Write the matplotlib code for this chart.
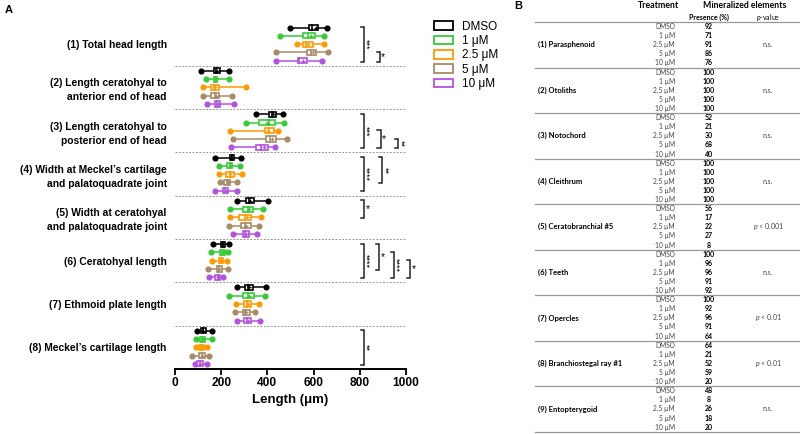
import matplotlib
matplotlib.use("Agg")
import matplotlib.pyplot as plt
from matplotlib.patches import Rectangle, Patch
import numpy as np

plt.rcParams['font.family'] = ['Liberation Sans', 'DejaVu Sans']
plt.rcParams['mathtext.fontset'] = 'custom'
plt.rcParams['mathtext.it'] = 'Lato:italic'
plt.rcParams['mathtext.rm'] = 'Lato'

# ---------------- data (panel A) ----------------
measures = ["(1) Total head length",
            "(2) Length ceratohyal to\nanterior end of head",
            "(3) Length ceratohyal to\nposterior end of head",
            "(4) Width at Meckel\u2019s cartilage\nand palatoquadrate joint",
            "(5) Width at ceratohyal\nand palatoquadrate joint",
            "(6) Ceratohyal length",
            "(7) Ethmoid plate length",
            "(8) Meckel\u2019s cartilage length"]
treatments = ["DMSO", "1 \u03bcM", "2.5 \u03bcM", "5 \u03bcM", "10 \u03bcM"]
colors = ["#000000", "#33cc33", "#ff9900", "#a88a66", "#b352e0"]

w_lo = [[498, 455, 530, 437, 437],
        [113, 136, 120, 123, 137],
        [351, 307, 238, 250, 241],
        [173, 192, 190, 195, 172],
        [267, 238, 238, 235, 250],
        [166, 156, 162, 144, 149],
        [270, 234, 264, 260, 267],
        [94, 91, 91, 75, 87]]
q1 = [[580, 555, 553, 573, 532],
      [167, 167, 154, 157, 173],
      [405, 365, 391, 395, 352],
      [238, 227, 221, 214, 206],
      [307, 296, 278, 286, 293],
      [198, 195, 189, 180, 175],
      [303, 296, 299, 293, 300],
      [111, 108, 105, 104, 97]]
med = [[595, 575, 565, 590, 537],
       [178, 173, 170, 173, 182],
       [420, 405, 408, 413, 372],
       [246, 236, 236, 225, 217],
       [322, 318, 305, 303, 305],
       [206, 205, 197, 190, 184],
       [318, 316, 312, 305, 312],
       [121, 119, 114, 115, 109]]
mean = [[610, 590, 577, 599, 552],
        [182, 176, 172, 176, 185],
        [426, 398, 404, 418, 384],
        [244, 238, 239, 228, 219],
        [326, 322, 310, 308, 309],
        [205, 206, 199, 191, 185],
        [321, 320, 314, 308, 315],
        [122, 120, 115, 117, 110]]
q3 = [[619, 605, 596, 610, 570],
      [195, 180, 189, 189, 195],
      [437, 433, 429, 436, 401],
      [255, 247, 255, 238, 231],
      [342, 339, 328, 328, 322],
      [215, 218, 206, 202, 195],
      [336, 342, 328, 325, 329],
      [133, 131, 126, 130, 123]]
w_hi = [[658, 645, 645, 661, 635],
        [232, 235, 307, 245, 257],
        [469, 473, 447, 486, 433],
        [286, 281, 291, 270, 270],
        [403, 382, 374, 365, 356],
        [232, 228, 225, 228, 209],
        [394, 388, 365, 348, 368],
        [162, 160, 137, 149, 137]]

# significance: (measure index, first row, last row, label)
sig_groups = [0, 0, 2, 2, 2, 3, 3, 4, 5, 5, 5, 5, 7]
sig_from = [0, 3, 0, 2, 3, 0, 0, 0, 0, 0, 1, 2, 0]
sig_to = [4, 4, 4, 4, 4, 4, 3, 2, 4, 3, 4, 4, 4]
sig_labels = ["***", "*", "***", "*", "**", "****", "**", "*", "****", "*", "****", "*", "**"]
sig_x = [818, 887, 818, 890, 967, 818, 897, 818, 818, 884, 948, 1017, 818]

# ---------------- data (panel B) ----------------
elements = ["(1) Parasphenoid", "(2) Otoliths", "(3) Notochord", "(4) Cleithrum",
            "(5) Ceratobranchial #5", "(6) Teeth", "(7) Opercles",
            "(8) Branchiostegal ray #1", "(9) Entopterygoid"]
tab_treat = ["DMSO", "1 \u00b5M", "2.5 \u00b5M", "5 \u00b5M", "10 \u00b5M"]
presence = [[92, 71, 91, 86, 76],
            [100, 100, 100, 100, 100],
            [52, 21, 30, 68, 40],
            [100, 100, 100, 100, 100],
            [56, 17, 22, 27, 8],
            [100, 96, 96, 91, 92],
            [100, 92, 96, 91, 64],
            [64, 21, 52, 59, 20],
            [48, 8, 26, 18, 20]]
pvalues = ["n.s.", "n.s.", "n.s.", "n.s.", "$p$ < 0.001", "n.s.", "$p$ < 0.01", "$p$ < 0.01", "n.s."]

# ---------------- figure ----------------
W, H = 800, 434
fig = plt.figure(figsize=(8, 4.34), dpi=100)
ax = fig.add_axes([175 / W, 1 - 369 / H, 231 / W, (369 - 22.5) / H])

G = 5.24
off = 0.62
bh = 0.62
for g in range(len(measures)):
    for r in range(5):
        y = g * G + off + r
        c = colors[r]
        ax.plot([w_lo[g][r], q1[g][r]], [y, y], color=c, lw=1.1, solid_capstyle='butt', zorder=2)
        ax.plot([q3[g][r], w_hi[g][r]], [y, y], color=c, lw=1.1, solid_capstyle='butt', zorder=2)
        ax.plot([w_lo[g][r], w_hi[g][r]], [y, y], ls='none', marker='o', ms=3.4,
                color=c, zorder=3)
        ax.add_patch(Rectangle((q1[g][r], y - bh / 2), q3[g][r] - q1[g][r], bh,
                               facecolor='white', edgecolor=c, lw=1.2, zorder=4))
        ax.plot([med[g][r], med[g][r]], [y - bh / 2, y + bh / 2], color=c, lw=1.2, zorder=5)
        ax.plot([mean[g][r]], [y], marker='+', ms=3.5, mew=0.9, color=c, zorder=5)
    if g > 0:
        ax.axhline(g * G, color='#999999', lw=0.7, ls=(0, (2, 1.5)), zorder=1)

# significance brackets
tick = 14
for gi, a, b, lab, x in zip(sig_groups, sig_from, sig_to, sig_labels, sig_x):
    y0 = gi * G + off + a - 0.05
    y1 = gi * G + off + b + 0.1
    ax.plot([x - tick, x, x, x - tick], [y0, y0, y1, y1], color='#222222', lw=1.1,
            clip_on=False, solid_joinstyle='miter', zorder=6)
    if len(lab) > 1:
        ax.text(x + 9, (y0 + y1) / 2, lab, rotation=270, ha='center', va='center',
                fontsize=6.5, clip_on=False)
    else:
        ax.text(x + 6, (y0 + y1) / 2, lab, ha='left', va='center', fontsize=7.5,
                clip_on=False)

ax.set_xlim(0, 1000)
ax.set_ylim(len(measures) * G, 0)
ax.set_xticks([0, 200, 400, 600, 800, 1000])
ax.set_yticks([g * G + off + 2 for g in range(len(measures))])
ax.set_yticklabels(measures, fontweight='bold', fontsize=7.4, linespacing=1.5)
ax.tick_params(axis='y', length=0, pad=6)
ax.tick_params(axis='x', length=4, width=1.3, labelsize=8.6, pad=2)
for lbl in ax.get_xticklabels():
    lbl.set_fontweight('bold')
for s in ['left', 'right', 'top']:
    ax.spines[s].set_visible(False)
ax.spines['bottom'].set_linewidth(1.4)
ax.set_xlabel("Length (\u03bcm)", fontweight='bold', fontsize=9.5, labelpad=3)

# legend
handles = [Patch(facecolor='white', edgecolor=c, lw=1.3, label=t) for c, t in zip(colors, treatments)]
fig.legend(handles=handles, loc='upper left', bbox_to_anchor=(429 / W, 1 - 16 / H),
           frameon=False, fontsize=8.5, handlelength=1.6, handleheight=0.75,
           labelspacing=0.2, handletextpad=0.8, borderaxespad=0)

# panel labels
fig.text(5 / W, 1 - 10 / H, "A", fontweight='bold', fontsize=8, va='center')
fig.text(514 / W, 1 - 6 / H, "B", fontweight='bold', fontsize=8, va='center')

# ---------------- panel B (table) ----------------
tax = fig.add_axes([0, 0, 1, 1])
tax.set_xlim(0, W)
tax.set_ylim(H, 0)
tax.axis('off')
tfont = ['Lato', 'DejaVu Sans']
x0, x1 = 535, 800
top = 22
sec_h = (431.7 - top) / len(elements)
tax.text(659, 6, "Treatment", ha='center', va='center', fontsize=6.3, fontweight='bold', family=tfont)
tax.text(745, 6, "Mineralized elements", ha='center', va='center', fontsize=6.3, fontweight='bold', family=tfont)
tax.text(709, 17.3, "Presence (%)", ha='center', va='center', fontsize=5, fontweight='bold', family=tfont)
tax.text(768, 17.3, "$p$-value", ha='center', va='center', fontsize=5, family=tfont)
for i, name in enumerate(elements):
    ys = top + i * sec_h
    tax.plot([x0, x1], [ys, ys], color='#999999', lw=0.9)
    row_h = sec_h / 5
    for r in range(5):
        yr = ys + (r + 0.5) * row_h
        tax.text(675, yr, tab_treat[r], ha='right', va='center', fontsize=4.8,
                 color='#444444', family=tfont)
        tax.text(709, yr, str(presence[i][r]), ha='center', va='center', fontsize=5,
                 fontweight='bold', family=tfont)
    yc = ys + 2.5 * row_h
    tax.text(538, yc, name, ha='left', va='center', fontsize=5.5, fontweight='bold', family=tfont)
    tax.text(768, yc, pvalues[i], ha='center', va='center', fontsize=5, color='#444444', family=tfont)
tax.plot([x0, x1], [top + len(elements) * sec_h] * 2, color='#999999', lw=0.9)

fig.savefig("out.png", dpi=100)
